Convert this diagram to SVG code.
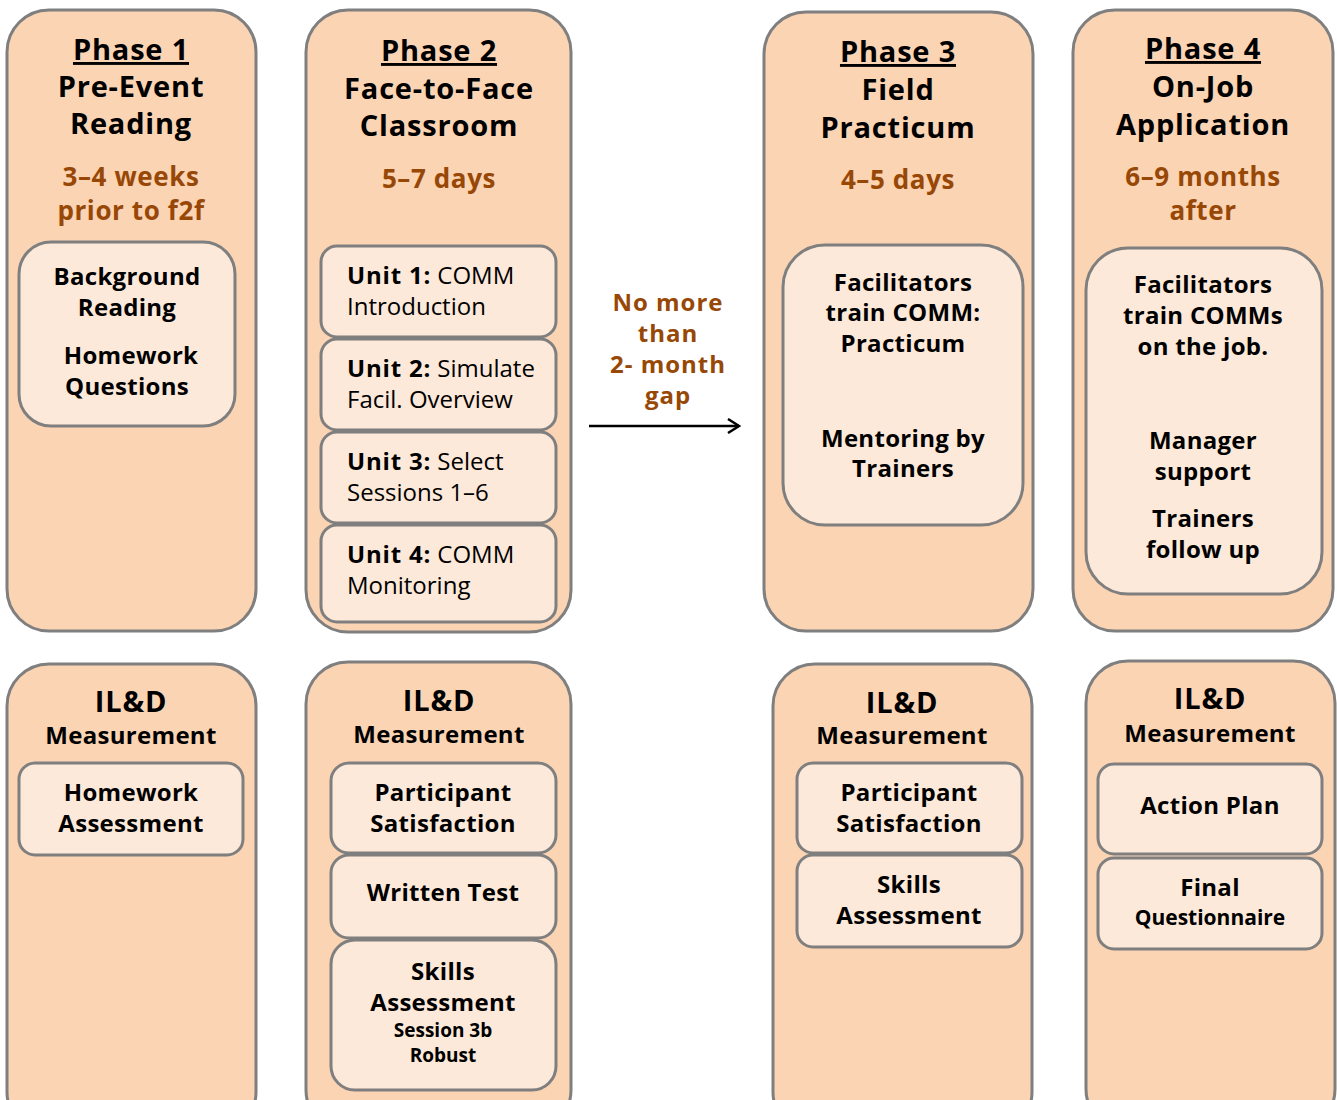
<svg xmlns="http://www.w3.org/2000/svg" width="1337" height="1100" viewBox="0 0 1337 1100">
<style>
.outer{fill:#FBD4B4;stroke:#7F7F7F;stroke-width:3}
.inner{fill:#FDE9D9;stroke:#7F7F7F;stroke-width:3}
text{font-family:"Open Sans","Liberation Sans",sans-serif;font-weight:700;fill:#000;text-anchor:middle}
.t{font-size:29px;letter-spacing:0.8px}
.u{text-decoration:underline}
.o{font-size:26px;fill:#984806;letter-spacing:0.6px}
.g{font-size:24px;fill:#984806;letter-spacing:1px}
.b{font-size:24px;letter-spacing:0.3px}
.s{font-size:19px}
.l{text-anchor:start;font-size:24px}
.r{font-weight:400}
</style>
<defs>
<marker id="ah" markerWidth="16" markerHeight="16" refX="13" refY="8" orient="auto" markerUnits="userSpaceOnUse">
<path d="M2,1 L13,8 L2,15" fill="none" stroke="#000" stroke-width="2.5"/>
</marker>
</defs>

<g id="phase1">
<rect class="outer" x="7" y="10" width="249" height="621" rx="42"/>
<text class="t u" x="131" y="60">Phase 1</text>
<text class="t" x="131" y="97">Pre-Event</text>
<text class="t" x="131" y="134">Reading</text>
<text class="o" x="131" y="186">3–4 weeks</text>
<text class="o" x="131" y="220">prior to f2f</text>
<rect class="inner" x="19" y="242" width="216" height="184" rx="32"/>
<text class="b" x="127" y="285">Background</text>
<text class="b" x="127" y="316">Reading</text>
<text class="b" x="131" y="364">Homework</text>
<text class="b" x="127" y="395">Questions</text>
</g>

<g id="phase2">
<rect class="outer" x="306" y="10" width="265" height="622" rx="42"/>
<text class="t u" x="439" y="61">Phase 2</text>
<text class="t" x="439" y="99">Face-to-Face</text>
<text class="t" x="439" y="136">Classroom</text>
<text class="o" x="439" y="188">5–7 days</text>
<rect class="inner" x="321" y="246" width="235" height="91" rx="16"/>
<text class="l" x="347" y="284"><tspan style="letter-spacing:0.8px">Unit 1:</tspan> <tspan class="r">COMM</tspan></text>
<text class="l r" x="347" y="315">Introduction</text>
<rect class="inner" x="321" y="339" width="235" height="91" rx="16"/>
<text class="l" x="347" y="377"><tspan style="letter-spacing:0.8px">Unit 2:</tspan> <tspan class="r">Simulate</tspan></text>
<text class="l r" x="347" y="408">Facil. Overview</text>
<rect class="inner" x="321" y="432" width="235" height="91" rx="16"/>
<text class="l" x="347" y="470"><tspan style="letter-spacing:0.8px">Unit 3:</tspan> <tspan class="r">Select</tspan></text>
<text class="l r" x="347" y="501">Sessions 1–6</text>
<rect class="inner" x="321" y="525" width="235" height="97" rx="16"/>
<text class="l" x="347" y="563"><tspan style="letter-spacing:0.8px">Unit 4:</tspan> <tspan class="r">COMM</tspan></text>
<text class="l r" x="347" y="594">Monitoring</text>
</g>

<g id="gap-label">
<text class="g" x="668" y="311">No more</text>
<text class="g" x="668" y="342">than</text>
<text class="g" x="668" y="373">2- month</text>
<text class="g" x="668" y="404">gap</text>
</g>

<g id="connectors">
<line x1="589" y1="426" x2="739" y2="426" stroke="#000" stroke-width="2.5" marker-end="url(#ah)"/>
</g>

<g id="phase3">
<rect class="outer" x="764" y="12" width="269" height="619" rx="42"/>
<text class="t u" x="898" y="62">Phase 3</text>
<text class="t" x="898" y="100">Field</text>
<text class="t" x="898" y="138">Practicum</text>
<text class="o" x="898" y="189">4–5 days</text>
<rect class="inner" x="783" y="245" width="240" height="280" rx="42"/>
<text class="b" x="903" y="291">Facilitators</text>
<text class="b" x="903" y="321">train COMM:</text>
<text class="b" x="903" y="352">Practicum</text>
<text class="b" x="903" y="447">Mentoring by</text>
<text class="b" x="903" y="477">Trainers</text>
</g>

<g id="phase4">
<rect class="outer" x="1073" y="10" width="260" height="621" rx="42"/>
<text class="t u" x="1203" y="59">Phase 4</text>
<text class="t" x="1203" y="97">On-Job</text>
<text class="t" x="1203" y="135">Application</text>
<text class="o" x="1203" y="186">6–9 months</text>
<text class="o" x="1203" y="220">after</text>
<rect class="inner" x="1086" y="248" width="236" height="346" rx="42"/>
<text class="b" x="1203" y="293">Facilitators</text>
<text class="b" x="1203" y="324">train COMMs</text>
<text class="b" x="1203" y="355">on the job.</text>
<text class="b" x="1203" y="449">Manager</text>
<text class="b" x="1203" y="480">support</text>
<text class="b" x="1203" y="527">Trainers</text>
<text class="b" x="1203" y="558">follow up</text>
</g>

<g id="measure1">
<rect class="outer" x="7" y="664" width="249" height="470" rx="42"/>
<text class="t" x="131" y="712">IL&amp;D</text>
<text class="b" x="131" y="744">Measurement</text>
<rect class="inner" x="19" y="763" width="224" height="92" rx="16"/>
<text class="b" x="131" y="801">Homework</text>
<text class="b" x="131" y="832">Assessment</text>
</g>

<g id="measure2">
<rect class="outer" x="306" y="662" width="265" height="470" rx="42"/>
<text class="t" x="439" y="711">IL&amp;D</text>
<text class="b" x="439" y="743">Measurement</text>
<rect class="inner" x="331" y="763" width="225" height="90" rx="18"/>
<text class="b" x="443" y="801">Participant</text>
<text class="b" x="443" y="832">Satisfaction</text>
<rect class="inner" x="331" y="855" width="225" height="83" rx="18"/>
<text class="b" x="443" y="901">Written Test</text>
<rect class="inner" x="331" y="940" width="225" height="150" rx="24"/>
<text class="b" x="443" y="980">Skills</text>
<text class="b" x="443" y="1011">Assessment</text>
<text class="s" x="443" y="1037">Session 3b</text>
<text class="s" x="443" y="1062">Robust</text>
</g>

<g id="measure3">
<rect class="outer" x="773" y="664" width="259" height="470" rx="42"/>
<text class="t" x="902" y="713">IL&amp;D</text>
<text class="b" x="902" y="744">Measurement</text>
<rect class="inner" x="797" y="763" width="225" height="90" rx="16"/>
<text class="b" x="909" y="801">Participant</text>
<text class="b" x="909" y="832">Satisfaction</text>
<rect class="inner" x="797" y="855" width="225" height="92" rx="16"/>
<text class="b" x="909" y="893">Skills</text>
<text class="b" x="909" y="924">Assessment</text>
</g>

<g id="measure4">
<rect class="outer" x="1086" y="661" width="249" height="470" rx="42"/>
<text class="t" x="1210" y="709">IL&amp;D</text>
<text class="b" x="1210" y="742">Measurement</text>
<rect class="inner" x="1098" y="764" width="224" height="90" rx="16"/>
<text class="b" x="1210" y="814">Action Plan</text>
<rect class="inner" x="1098" y="858" width="224" height="91" rx="16"/>
<text class="b" x="1210" y="896">Final</text>
<text class="s" x="1210" y="925" style="font-size:21px">Questionnaire</text>
</g>
</svg>
